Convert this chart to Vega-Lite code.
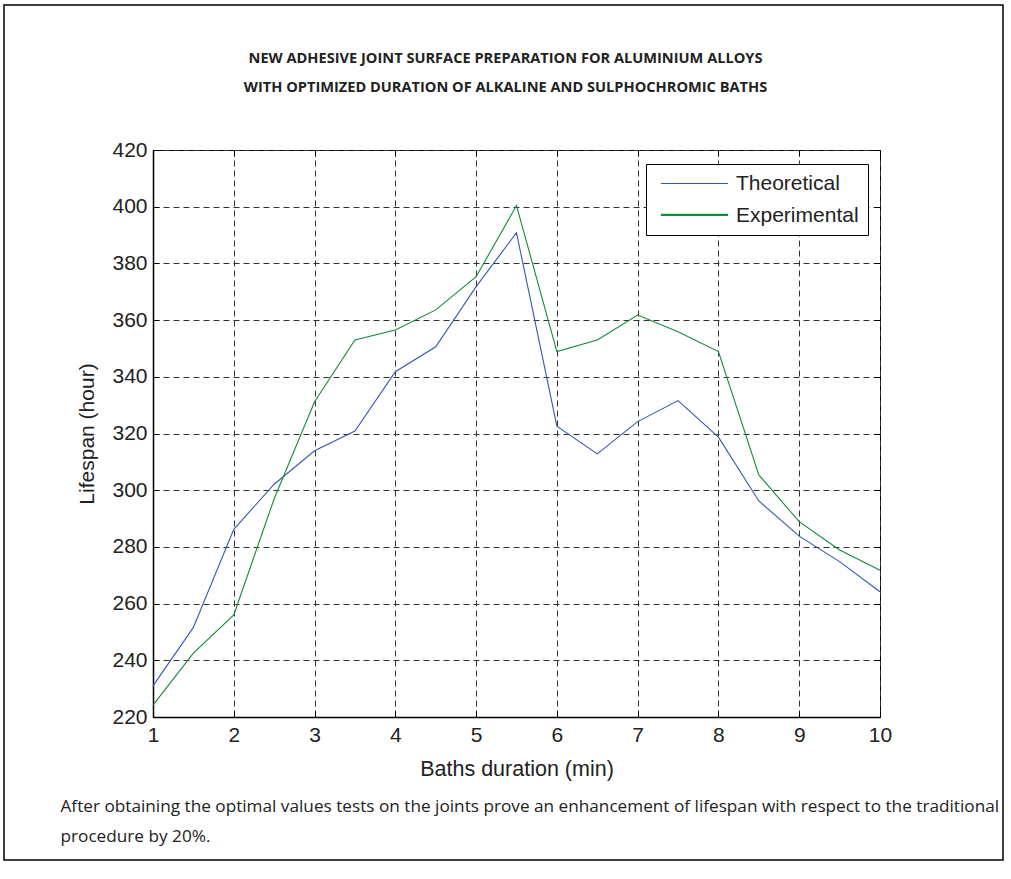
{
  "$schema": "https://vega.github.io/schema/vega-lite/v6.json",
  "width": 727,
  "height": 567,
  "autosize": {"type": "none"},
  "padding": {"left": 153, "top": 150, "right": 131, "bottom": 162},
  "background": "white",
  "title": {
    "text": ["NEW ADHESIVE JOINT SURFACE PREPARATION FOR ALUMINIUM ALLOYS", "WITH OPTIMIZED DURATION OF ALKALINE AND SULPHOCHROMIC BATHS"],
    "font": "Open Sans",
    "fontSize": 14.6,
    "fontWeight": "bold",
    "color": "#222222",
    "lineHeight": 29,
    "offset": 45,
    "dx": -11,
    "dy": 135,
    "anchor": "middle",
    "frame": "group"
  },
  "data": {
    "values": [
      {"duration": 1, "lifespan": 231, "series": "Theoretical"},
      {"duration": 1.5, "lifespan": 251.6, "series": "Theoretical"},
      {"duration": 2, "lifespan": 286.2, "series": "Theoretical"},
      {"duration": 2.5, "lifespan": 302.1, "series": "Theoretical"},
      {"duration": 3, "lifespan": 313.9, "series": "Theoretical"},
      {"duration": 3.5, "lifespan": 320.9, "series": "Theoretical"},
      {"duration": 4, "lifespan": 341.8, "series": "Theoretical"},
      {"duration": 4.5, "lifespan": 350.6, "series": "Theoretical"},
      {"duration": 5, "lifespan": 371.8, "series": "Theoretical"},
      {"duration": 5.5, "lifespan": 390.8, "series": "Theoretical"},
      {"duration": 6, "lifespan": 322.6, "series": "Theoretical"},
      {"duration": 6.5, "lifespan": 312.8, "series": "Theoretical"},
      {"duration": 7, "lifespan": 324.2, "series": "Theoretical"},
      {"duration": 7.5, "lifespan": 331.6, "series": "Theoretical"},
      {"duration": 8, "lifespan": 318.7, "series": "Theoretical"},
      {"duration": 8.5, "lifespan": 296.2, "series": "Theoretical"},
      {"duration": 9, "lifespan": 283.8, "series": "Theoretical"},
      {"duration": 9.5, "lifespan": 274.8, "series": "Theoretical"},
      {"duration": 10, "lifespan": 264.2, "series": "Theoretical"},
      {"duration": 1, "lifespan": 224.2, "series": "Experimental"},
      {"duration": 1.5, "lifespan": 242.5, "series": "Experimental"},
      {"duration": 2, "lifespan": 256, "series": "Experimental"},
      {"duration": 2.5, "lifespan": 297, "series": "Experimental"},
      {"duration": 3, "lifespan": 331.2, "series": "Experimental"},
      {"duration": 3.5, "lifespan": 353, "series": "Experimental"},
      {"duration": 4, "lifespan": 356.5, "series": "Experimental"},
      {"duration": 4.5, "lifespan": 363.6, "series": "Experimental"},
      {"duration": 5, "lifespan": 375.3, "series": "Experimental"},
      {"duration": 5.5, "lifespan": 400.4, "series": "Experimental"},
      {"duration": 6, "lifespan": 348.9, "series": "Experimental"},
      {"duration": 6.5, "lifespan": 353, "series": "Experimental"},
      {"duration": 7, "lifespan": 361.8, "series": "Experimental"},
      {"duration": 7.5, "lifespan": 355.9, "series": "Experimental"},
      {"duration": 8, "lifespan": 348.9, "series": "Experimental"},
      {"duration": 8.5, "lifespan": 305.4, "series": "Experimental"},
      {"duration": 9, "lifespan": 288.9, "series": "Experimental"},
      {"duration": 9.5, "lifespan": 278.9, "series": "Experimental"},
      {"duration": 10, "lifespan": 271.8, "series": "Experimental"}
    ]
  },
  "layer": [
    {
      "mark": {"type": "line", "strokeWidth": 1.1},
      "encoding": {
        "x": {
          "field": "duration",
          "type": "quantitative",
          "scale": {"domain": [1, 10], "nice": false, "zero": false},
          "axis": {
            "title": "Baths duration (min)",
            "values": [1, 2, 3, 4, 5, 6, 7, 8, 9, 10],
            "format": "d",
            "grid": true,
            "gridDash": [6, 4],
            "gridColor": "#333333",
            "gridWidth": 1,
            "ticks": true,
            "tickSize": -6,
            "tickColor": "#000000",
            "tickWidth": 1,
            "domainColor": "#000000",
            "domainWidth": 1.5,
            "labelFont": "Liberation Sans",
            "labelFontSize": 21,
            "labelColor": "#222222",
            "labelPadding": 13,
            "labelFlush": false,
            "titleFont": "Liberation Sans",
            "titleFontSize": 21.5,
            "titleFontWeight": "normal",
            "titleColor": "#222222",
            "titlePadding": 13
          }
        },
        "y": {
          "field": "lifespan",
          "type": "quantitative",
          "scale": {"domain": [220, 420], "nice": false, "zero": false},
          "axis": {
            "title": "Lifespan (hour)",
            "values": [220, 240, 260, 280, 300, 320, 340, 360, 380, 400, 420],
            "grid": true,
            "gridDash": [6, 4],
            "gridColor": "#333333",
            "gridWidth": 1,
            "ticks": true,
            "tickSize": -6,
            "tickColor": "#000000",
            "tickWidth": 1,
            "domainColor": "#000000",
            "domainWidth": 1.5,
            "labelFont": "Liberation Sans",
            "labelFontSize": 21,
            "labelColor": "#222222",
            "labelPadding": 12,
            "labelFlush": false,
            "titleFont": "Liberation Sans",
            "titleFontSize": 21,
            "titleFontWeight": "normal",
            "titleColor": "#222222",
            "titlePadding": 14
          }
        },
        "stroke": {
          "field": "series",
          "type": "nominal",
          "scale": {"domain": ["Theoretical", "Experimental"], "range": ["#3558b0", "#138a3c"]},
          "legend": {
            "title": null,
            "orient": "none",
            "legendX": 493,
            "legendY": 14,
            "symbolType": "M-1,0L1,0",
            "symbolSize": 4500,
            "symbolStrokeWidth": 1.2,
            "symbolOffset": 5,
            "clipHeight": 21,
            "labelFont": "Liberation Sans",
            "labelFontSize": 21,
            "labelColor": "#222222",
            "labelOffset": 7,
            "rowPadding": 10,
            "padding": 9,
            "strokeColor": "#000000",
            "fillColor": "white",
            "labelLimit": 300,
            "zindex": 1
          }
        }
      }
    },
    {
      "mark": {"type": "line", "opacity": 0},
      "encoding": {
        "x": {
          "field": "duration",
          "type": "quantitative",
          "scale": {"domain": [1, 10], "nice": false, "zero": false},
          "axis": {
            "orient": "bottom",
            "labels": false,
            "ticks": false,
            "domain": false,
            "grid": false,
            "title": ["After obtaining the optimal values tests on the joints prove an enhancement of lifespan with respect to the traditional", "procedure by 20%."],
            "titleFont": "Open Sans",
            "titleFontSize": 17.2,
            "titleFontWeight": "normal",
            "titleColor": "#222222",
            "titleAnchor": "start",
            "titleAlign": "left",
            "titleBaseline": "alphabetic",
            "titleLineHeight": 30,
            "titleX": -93,
            "titleY": 94
          }
        },
        "y": {
          "field": "lifespan",
          "type": "quantitative",
          "scale": {"domain": [220, 420], "nice": false, "zero": false},
          "axis": {
            "orient": "right",
            "values": [220, 240, 260, 280, 300, 320, 340, 360, 380, 400, 420],
            "labels": false,
            "domain": false,
            "grid": false,
            "title": null,
            "ticks": true,
            "tickSize": -6,
            "tickColor": "#000000",
            "tickWidth": 1
          }
        }
      }
    },
    {
      "mark": {"type": "point", "size": 0, "filled": true, "opacity": 1},
      "encoding": {
        "x": {
          "field": "duration",
          "type": "quantitative",
          "scale": {"domain": [1, 10], "nice": false, "zero": false},
          "axis": {
            "orient": "top",
            "values": [1, 2, 3, 4, 5, 6, 7, 8, 9, 10],
            "labels": false,
            "domain": false,
            "grid": false,
            "title": null,
            "ticks": true,
            "tickSize": -6,
            "tickColor": "#000000",
            "tickWidth": 1
          }
        },
        "y": {"field": "lifespan", "type": "quantitative", "scale": {"domain": [220, 420], "nice": false, "zero": false}, "axis": null},
        "fill": {
          "field": "lifespan",
          "type": "quantitative",
          "scale": {"range": ["rgba(255,255,255,0)", "rgba(255,255,255,0)"]},
          "legend": {
            "title": null,
            "orient": "none",
            "direction": "horizontal",
            "legendX": -149,
            "legendY": -145,
            "gradientLength": 999,
            "gradientThickness": 855,
            "gradientStrokeColor": "#000000",
            "gradientStrokeWidth": 1.5,
            "gradientOpacity": 1,
            "labelExpr": "''",
            "padding": 0,
            "zindex": 0
          }
        }
      }
    },
    {
      "transform": [{"filter": "datum.series === 'Experimental'"}],
      "mark": {"type": "line", "color": "#138a3c", "opacity": 0},
      "encoding": {
        "x": {"field": "duration", "type": "quantitative", "scale": {"domain": [1, 10], "nice": false, "zero": false}, "axis": null},
        "y": {"field": "lifespan", "type": "quantitative", "scale": {"domain": [220, 420], "nice": false, "zero": false}, "axis": null},
        "strokeDash": {
          "field": "series",
          "type": "nominal",
          "scale": {"domain": ["Experimental"], "range": [[1, 0]]},
          "legend": {
            "title": null,
            "orient": "none",
            "legendX": 493,
            "legendY": 45,
            "symbolType": "M-1,0L1,0",
            "symbolSize": 4500,
            "symbolStrokeWidth": 1.5,
            "symbolOffset": 5,
            "symbolOpacity": 1,
            "clipHeight": 21,
            "padding": 9,
            "labelExpr": "''",
            "labelFontSize": 21,
            "labelOffset": 7,
            "zindex": 2
          }
        }
      }
    }
  ],
  "resolve": {"scale": {"x": "independent", "y": "independent", "fill": "independent"}, "axis": {"x": "independent", "y": "independent"}},
  "config": {
    "view": {"stroke": "#000000", "strokeWidth": 1}
  }
}
